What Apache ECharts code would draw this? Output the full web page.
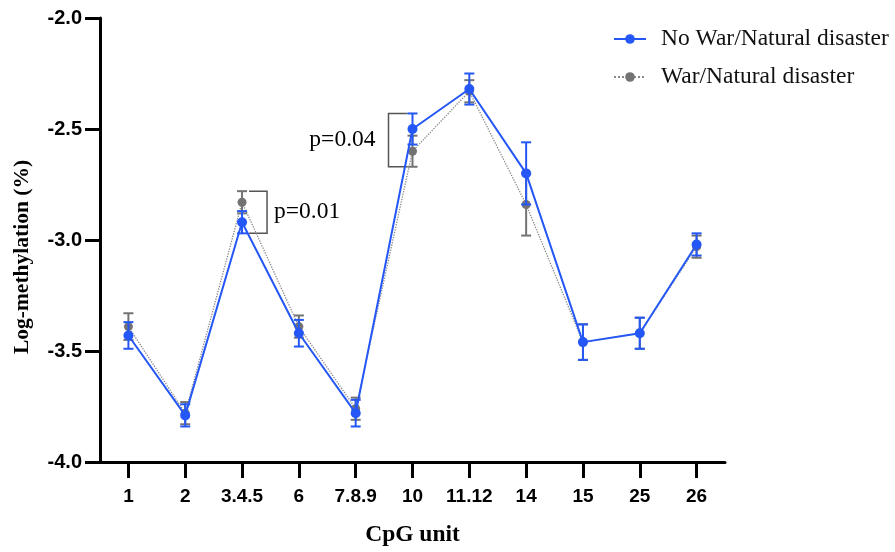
<!DOCTYPE html>
<html>
<head>
<meta charset="utf-8">
<script src="https://cdn.jsdelivr.net/npm/echarts@6/dist/echarts.min.js"></script>
<style>html,body{margin:0;padding:0;background:#fff}#c{width:895px;height:552px}</style>
</head>
<body>
<div id="c"></div>
<script>
var categories = ['1','2','3.4.5','6','7.8.9','10','11.12','14','15','25','26'];
var noWarMean = [-3.43, -3.79, -2.92, -3.42, -3.78, -2.50, -2.32, -2.70, -3.46, -3.42, -3.02];
var noWarErr  = [0.06, 0.05, 0.05, 0.06, 0.06, 0.07, 0.07, 0.14, 0.08, 0.07, 0.05];
var warMean   = [-3.39, -3.78, -2.83, -3.39, -3.76, -2.60, -2.33, -2.84, -3.46, -3.42, -3.03];
var warErr    = [0.06, 0.05, 0.05, 0.05, 0.05, 0.07, 0.05, 0.14, 0.08, 0.07, 0.05];
var yTicks = [-4.0, -3.5, -3.0, -2.5, -2.0];
var seriesNames = ['No War/Natural disaster', 'War/Natural disaster'];
var annotations = [
  {label: 'p=0.01', cat: 2, top: warMean[2] + warErr[2], bottom: noWarMean[2] - noWarErr[2], side: 'right'},
  {label: 'p=0.04', cat: 5, top: noWarMean[5] + noWarErr[5], bottom: warMean[5] - warErr[5], side: 'left'}
];

var BLUE = '#2457f5';
var GRAY = '#737373';
var SERIF = 'Liberation Serif';

function errData(mean, err) {
  return mean.map(function (m, i) { return [i, m - err[i], m + err[i]]; });
}
function errRender(color) {
  return function (params, api) {
    var lo = api.coord([api.value(0), api.value(1)]);
    var hi = api.coord([api.value(0), api.value(2)]);
    var hw = 5;
    var st = {stroke: color, lineWidth: 2};
    return {type: 'group', children: [
      {type: 'line', shape: {x1: lo[0], y1: lo[1], x2: hi[0], y2: hi[1]}, style: st},
      {type: 'line', shape: {x1: lo[0]-hw, y1: lo[1], x2: lo[0]+hw, y2: lo[1]}, style: st},
      {type: 'line', shape: {x1: hi[0]-hw, y1: hi[1], x2: hi[0]+hw, y2: hi[1]}, style: st}
    ]};
  };
}

var chart = echarts.init(document.getElementById('c'), null, {renderer: 'canvas'});
var option = {
  animation: false,
  backgroundColor: '#fff',
  grid: {left: 100, right: 170, top: 18, bottom: 89},
  legend: {
    orient: 'vertical', left: 613, top: 27, padding: 0, itemWidth: 32, itemHeight: 12, itemGap: 14,
    data: seriesNames,
    textStyle: {fontFamily: SERIF, fontSize: 23.5, color: '#111', padding: [0,0,0,10]}
  },
  xAxis: {
    type: 'category', data: categories, boundaryGap: true,
    name: 'CpG unit', nameLocation: 'middle', nameGap: 61,
    nameTextStyle: {fontFamily: SERIF, fontWeight: 'bold', fontSize: 23.5, color: '#000'},
    axisLine: {show: true, lineStyle: {color: '#000', width: 3}},
    axisTick: {show: true, alignWithLabel: true, interval: 0, length: 16, lineStyle: {width: 3, color: '#000'}},
    axisLabel: {interval: 0, margin: 25, fontFamily: 'Liberation Sans', fontWeight: 'bold', fontSize: 19, color: '#000'}
  },
  yAxis: {
    type: 'value', min: -4, max: -2, interval: 0.5,
    axisLine: {show: true, lineStyle: {color: '#000', width: 3}},
    axisTick: {show: true, length: 15, lineStyle: {width: 3, color: '#000'}},
    splitLine: {show: false},
    axisLabel: {margin: 18, fontFamily: 'Liberation Sans', fontWeight: 'bold', fontSize: 20, color: '#000',
      formatter: function (v) { return v.toFixed(1); }}
  },
  series: [
    {type: 'custom', name: 'warErr', renderItem: errRender(GRAY), data: errData(warMean, warErr), z: 2, silent: true},
    {name: seriesNames[1], type: 'line', data: warMean, symbol: 'circle', symbolSize: 9,
      itemStyle: {color: GRAY}, lineStyle: {color: '#888', width: 1.3, type: 'dotted'}, z: 3},
    {type: 'custom', name: 'noWarErr', renderItem: errRender(BLUE), data: errData(noWarMean, noWarErr), z: 4, silent: true},
    {name: seriesNames[0], type: 'line', data: noWarMean, symbol: 'circle', symbolSize: 10,
      itemStyle: {color: BLUE}, lineStyle: {color: BLUE, width: 2}, z: 5}
  ]
};
chart.setOption(option);

var g = [];
g.push({type: 'text', x: 22, y: 257, rotation: Math.PI / 2,
  style: {text: 'Log-methylation (%)', fontFamily: SERIF, fontWeight: 'bold', fontSize: 21.5, fill: '#000', align: 'center', verticalAlign: 'middle'}});
annotations.forEach(function (a) {
  var pt = chart.convertToPixel({xAxisIndex: 0, yAxisIndex: 0}, [a.cat, a.top]);
  var pb = chart.convertToPixel({xAxisIndex: 0, yAxisIndex: 0}, [a.cat, a.bottom]);
  var x0 = pt[0];
  var st = {stroke: '#555', lineWidth: 1.5, fill: null};
  if (a.side === 'right') {
    var xv = x0 + 25, xs = x0 + 7;
    g.push({type: 'polyline', shape: {points: [[xs, pt[1]], [xv, pt[1]], [xv, pb[1]], [xs, pb[1]]]}, style: st});
    g.push({type: 'text', x: xv + 7, y: (pt[1] + pb[1]) / 2, style: {text: a.label, fontFamily: SERIF, fontSize: 23.5, fill: '#000', verticalAlign: 'middle', align: 'left'}});
  } else {
    var xv2 = x0 - 24, xs2 = x0 - 5;
    g.push({type: 'polyline', shape: {points: [[xs2, pt[1]], [xv2, pt[1]], [xv2, pb[1]], [xs2, pb[1]]]}, style: st});
    g.push({type: 'text', x: xv2 - 13, y: (pt[1] + pb[1]) / 2, style: {text: a.label, fontFamily: SERIF, fontSize: 23.5, fill: '#000', verticalAlign: 'middle', align: 'right'}});
  }
});
chart.setOption({graphic: g});
</script>
</body>
</html>
